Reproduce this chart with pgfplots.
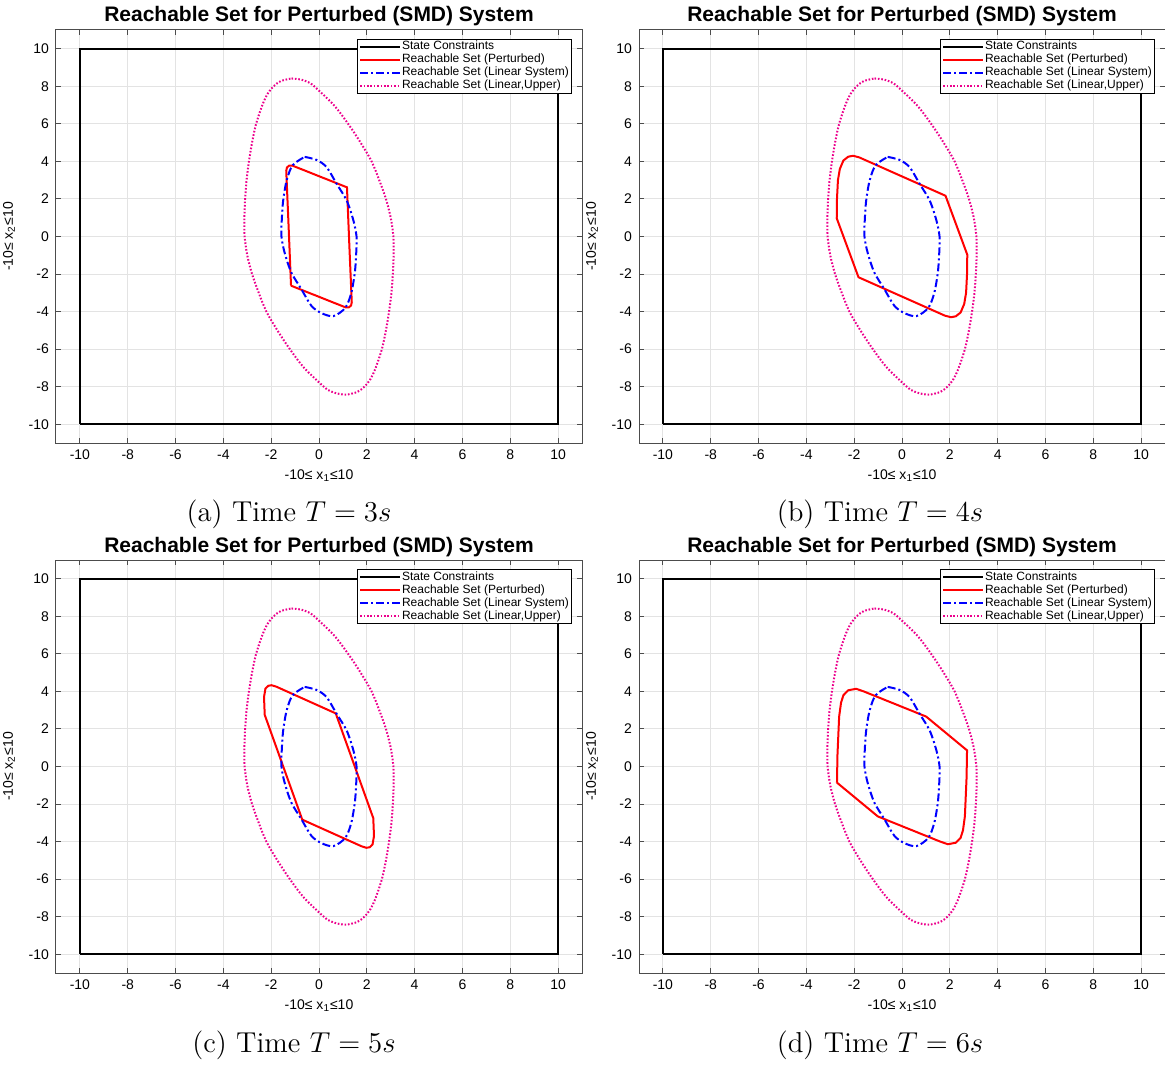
\documentclass[border=0pt]{standalone}
\usepackage{pgfplots}
\pgfplotsset{compat=1.18}
\usepackage{pgfplotstable}
\usepackage{fontspec}
\newfontfamily\helv{Liberation Sans}

% sets shared by all four panels
\pgfplotstableread{
x y
-1.15 8.42
-0.75 8.36
-0.45 8.22
-0.20 8.00
0.62 7.00
1.22 6.00
1.74 5.00
2.20 4.00
2.52 3.00
2.80 2.00
3.00 1.00
3.11 0.00
3.12 -1.00
3.09 -2.00
3.03 -3.00
2.93 -4.00
2.80 -5.00
2.63 -6.00
2.37 -7.00
2.15 -7.60
1.90 -8.00
1.60 -8.28
1.15 -8.42
0.75 -8.36
0.45 -8.22
0.20 -8.00
-0.62 -7.00
-1.22 -6.00
-1.74 -5.00
-2.20 -4.00
-2.52 -3.00
-2.80 -2.00
-3.00 -1.00
-3.11 0.00
-3.12 1.00
-3.09 2.00
-3.03 3.00
-2.93 4.00
-2.80 5.00
-2.63 6.00
-2.37 7.00
-2.15 7.60
-1.90 8.00
-1.60 8.28
-1.15 8.42
}\upperset

\pgfplotstableread{
x y
-0.60 4.24
-0.10 4.08
0.32 3.69
0.74 2.80
1.16 1.91
1.44 0.85
1.57 0.00
1.56 -0.80
1.50 -1.90
1.35 -3.00
1.10 -3.80
0.60 -4.24
0.10 -4.08
-0.32 -3.69
-0.74 -2.80
-1.16 -1.91
-1.44 -0.85
-1.57 0.00
-1.56 0.80
-1.50 1.90
-1.35 3.00
-1.10 3.80
-0.60 4.24
}\linset

% perturbed sets, T = 3,4,5,6
\pgfplotstableread{
x y
-1.17 -2.62
-1.27 0.50
-1.37 3.50
-1.34 3.68
-1.24 3.78
-1.10 3.77
1.17 2.62
1.27 -0.50
1.37 -3.50
1.34 -3.68
1.24 -3.78
1.10 -3.77
-1.17 -2.62
}\perta

\pgfplotstableread{
x y
-2.73 0.97
-2.72 2.00
-2.68 3.00
-2.60 3.60
-2.45 4.05
-2.25 4.25
-2.05 4.30
-1.80 4.22
1.82 2.17
2.73 -0.97
2.72 -2.00
2.68 -3.00
2.60 -3.60
2.45 -4.05
2.25 -4.25
2.05 -4.30
1.80 -4.22
-1.82 -2.17
-2.73 0.97
}\pertb

\pgfplotstableread{
x y
-2.27 2.75
-2.30 3.70
-2.24 4.15
-2.12 4.30
-1.98 4.33
-1.78 4.25
0.70 2.83
2.27 -2.75
2.30 -3.70
2.24 -4.15
2.12 -4.30
1.98 -4.33
1.78 -4.25
-0.70 -2.83
-2.27 2.75
}\pertc

\pgfplotstableread{
x y
-2.72 -0.86
-2.70 0.60
-2.63 2.65
-2.55 3.40
-2.45 3.80
-2.25 4.06
-1.92 4.14
-1.60 4.00
1.01 2.66
2.72 0.86
2.70 -0.60
2.63 -2.65
2.55 -3.40
2.45 -3.80
2.25 -4.06
1.92 -4.14
1.60 -4.00
-1.01 -2.66
-2.72 -0.86
}\pertd

\pgfplotsset{
  reachpanel/.style={
    scale only axis, width=263pt, height=206.5pt,
    xmin=-11, xmax=11, ymin=-11, ymax=11,
    xtick={-10,-8,...,10}, ytick={-10,-8,...,10},
    tick pos=both, xticklabel pos=lower, yticklabel pos=left,
    tick align=inside, major tick length=2.5pt,
    tick style={black!70, line width=0.5pt},
    axis line style={black!70, line width=0.5pt},
    grid=major, major grid style={gray!22, line width=0.5pt},
    /pgf/number format/assume math mode=true,
    tick label style={font=\helv\fontsize{7}{8}\selectfont},
    label style={font=\helv\fontsize{7}{8}\selectfont},
    xlabel={-10≤ x\textsubscript{1}≤10},
    ylabel={-10≤ x\textsubscript{2}≤10},
    xlabel style={yshift=2pt},
    title={Reachable Set for Perturbed (SMD) System},
    title style={at={(0.5,1)}, anchor=base, yshift=-2pt,
      font=\helv\bfseries\fontsize{10.5}{12}\selectfont},
    legend cell align=left,
    legend image code/.code={\draw[#1] (0pt,0pt) -- (20pt,0pt);},
    legend style={at={(1,1)}, anchor=north east, xshift=-5pt, yshift=-4.5pt,
      font=\helv\fontsize{6}{6.5}\selectfont, draw=black, fill=white,
      inner xsep=1pt, inner ysep=0.5pt, row sep=0pt,
      nodes={inner sep=0.4pt, text height=4.4pt, text depth=1.3pt}},
  }
}

\newcommand{\drawsets}[1]{%
  \addplot[black, line width=1.1pt] coordinates {(-10,-10) (10,-10) (10,10) (-10,10) (-10,-10)};
  \addlegendentry{State Constraints}
  \addplot[red, line width=1pt] table {#1};
  \addlegendentry{Reachable Set (Perturbed)}
  \addplot[blue, line width=1pt, smooth, dash pattern=on 4pt off 1.5pt on 1pt off 1.5pt] table {\linset};
  \addlegendentry{Reachable Set (Linear System)}
  \addplot[magenta, line width=1pt, smooth, dash pattern=on 0.8pt off 0.9pt] table {\upperset};
  \addlegendentry{Reachable Set (Linear,Upper)}
}

\begin{document}
\begin{tikzpicture}
\path[use as bounding box] (0,0) rectangle (582.5pt,-532.5pt);

\begin{axis}[reachpanel, at={(28pt,-15pt)}, anchor=north west]
\drawsets{\perta}
\end{axis}

\begin{axis}[reachpanel, at={(319.5pt,-15pt)}, anchor=north west]
\drawsets{\pertb}
\end{axis}

\begin{axis}[reachpanel, at={(28pt,-280pt)}, anchor=north west]
\drawsets{\pertc}
\end{axis}

\begin{axis}[reachpanel, at={(319.5pt,-280pt)}, anchor=north west]
\drawsets{\pertd}
\end{axis}

\node[anchor=base, font=\fontsize{14.4}{17}\selectfont] at (144.5pt,-260.5pt) {(a) Time $T=3s$};
\node[anchor=base, font=\fontsize{14.4}{17}\selectfont] at (440pt,-260.5pt) {(b) Time $T=4s$};
\node[anchor=base, font=\fontsize{14.4}{17}\selectfont] at (147pt,-526pt) {(c) Time $T=5s$};
\node[anchor=base, font=\fontsize{14.4}{17}\selectfont] at (440pt,-526pt) {(d) Time $T=6s$};
\end{tikzpicture}
\end{document}
